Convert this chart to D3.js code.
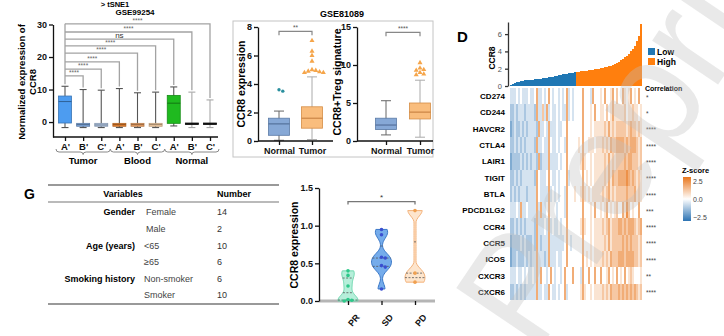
<!DOCTYPE html>
<html>
<head>
<meta charset="utf-8">
<script src="https://cdn.jsdelivr.net/npm/d3@7"></script>
<style>
  body { margin: 0; background: #fff; }
  svg { display: block; }
</style>
</head>
<body>
<div class="canvas"></div>
<script>
// ---------- data ----------
// panel A (GSE99254) : [min, q1, median, q3, max]
const groupsA = ["Tumor", "Blood", "Normal"];
const subsetsA = ["A'", "B'", "C'"];
const boxA = [
  [-1.7, -0.3, 6.3, 8.0, 11.0],
  [-1.7, -1.3, -0.8, -0.4, 10.0],
  [-1.7, -1.3, -0.9, -0.4, 9.8],
  [-1.7, -1.3, -0.8, -0.4, 10.3],
  [-1.7, -1.3, -0.8, -0.4, 9.0],
  [-1.7, -1.3, -0.8, -0.4, 9.2],
  [-1.2, -0.4, 5.8, 8.2, 10.8],
  [-1.7, -0.7, -0.5, -0.3, 9.2],
  [-1.7, -0.7, -0.5, -0.3, 6.8]
];
const colorsA = ["#4d9cf0", "#7fa8de", "#b5cbea", "#e9822f", "#f0a465", "#f7cfa4", "#1fba1f", "#1a1a1a", "#1a1a1a"];
const yTicksA = [0, 10, 20, 30];
const sigA = ["****", "****", "****", "****", "****", "ns", "****", "****"];
const sigHeightA = [14.2, 16.3, 18.5, 21.2, 23.4, 25.5, 27.7, 30.2];

// panel B (GSE81089)
const catsB = ["Normal", "Tumor"];
const boxB1 = [[0.05, 0.4, 1.2, 1.6, 2.1], [0.1, 0.9, 1.6, 2.4, 4.5]];
const outB1 = [[3.6, 3.5], [7.05, 6.3, 6.0, 5.6, 5.0, 4.95, 4.9, 4.85, 4.8, 4.8]];
const boxB2 = [[0.8, 1.5, 2.1, 3.0, 5.3], [0.5, 2.9, 3.8, 5.0, 8.0]];
const outB2 = [[], [10.3, 9.6, 9.4, 9.3, 9.0, 8.8, 8.7]];

// panel D
const ccr8Low = [0.10, 0.25, 0.35, 0.45, 0.52, 0.58, 0.63, 0.66, 0.69, 0.71, 0.73, 0.75, 0.77, 0.80, 0.83, 0.86, 0.89,
  0.92, 0.95, 0.99, 1.03, 1.08, 1.13, 1.18, 1.23, 1.28, 1.33, 1.37, 1.41, 1.45, 1.49, 1.53, 1.57];
const ccr8High = [1.62, 1.65, 1.68, 1.71, 1.74, 1.77, 1.80, 1.84, 1.88, 1.92, 1.96, 2.00, 2.05, 2.10, 2.16, 2.22, 2.29,
  2.36, 2.44, 2.53, 2.63, 2.78, 2.95, 3.12, 3.30, 3.50, 3.75, 4.00, 4.30, 4.65, 5.20, 5.80, 7.20];
const genes = ["CD274", "CD244", "HAVCR2", "CTLA4", "LAIR1", "TIGIT", "BTLA", "PDCD1LG2", "CCR4", "CCR5", "ICOS", "CXCR3", "CXCR6"];
const geneStars = ["*", "*", "****", "****", "****", "****", "****", "***", "****", "****", "****", "**", "****"];
// z-score levels per sample, 0 = low ... 4 = 0 ... 8 = high
const zLevels = [
  "33343433343 34733434743 44343473434 44474443744 45474457464 47545745474",
  "22323332333 32733637343 34343373434 44474445474 45546457555 55645565545",
  "12322323233 33273343733 34334474444 44474445455 55565756566 66656766565",
  "22323232333 32733433743 34344374444 45474455545 55656576677 77676777656",
  "12222323232 33272333733 33434474444 44575445455 55565756566 66767766656",
  "22323233333 32743334743 34344473444 44474545455 55565757667 77787676565",
  "23232333233 33743333734 34344374445 44575454555 55656756566 66676667565",
  "33343733433 33737334744 43444374444 44474445474 45457454564 47586454474",
  "22323232333 32733343734 33434474444 44575445455 55656756667 76767776567",
  "12222323222 32732333733 33333474344 44474445455 55565756666 67676766656",
  "12232223232 33733323733 34334474444 44474545455 55656576667 77677776656",
  "33343343433 43737443474 34434744474 44374474474 47445745474 54745654445",
  "22323232333 33733433743 34344734444 44575445455 55656576667 67676767656"
];

// panel G table
const tableVars = ["Gender", "", "Age (years)", "", "Smoking history", ""];
const tableLevels = ["Female", "Male", "<65", "\u226565", "Non-smoker", "Smoker"];
const tableNumbers = [14, 2, 10, 6, 6, 10];

// violin
const catsV = ["PR", "SD", "PD"];
const valuesV = [
  [0.40, 0.34, 0.20, 0.02, 0.01, 0.0],
  [0.95, 0.88, 0.58, 0.57, 0.47, 0.45, 0.16],
  [1.20, 0.37, 0.25]
];

// ---------- setup ----------
const FONT = '"Liberation Sans", Arial, sans-serif';
const svg = d3.select('.canvas').append('svg')
  .attr('width', 724).attr('height', 336)
  .attr('font-family', FONT);
svg.append('rect').attr('width', 724).attr('height', 336).attr('fill', '#fff');

function styleAxis(g, size, weight, color, stroke) {
  g.attr('font-family', FONT);
  g.selectAll('text').attr('font-size', size).attr('font-weight', weight).attr('fill', color || '#111');
  g.selectAll('path,line').attr('stroke', stroke || '#111').attr('stroke-width', 1.3);
}

// place points so they do not overlap
function swarm(ys, r) {
  const placed = [];
  return ys.map(y => {
    let off = 0;
    for (let k = 0; k < 30; k++) {
      off = k === 0 ? 0 : (k % 2 ? 1 : -1) * Math.ceil(k / 2) * r * 2.1;
      const hit = placed.some(p => (p[0] - off) ** 2 + (p[1] - y) ** 2 < (2 * r) ** 2);
      if (!hit) break;
    }
    placed.push([off, y]);
    return off;
  });
}

// ---------- panel A ----------
const xA = d3.scalePoint().domain(d3.range(9)).range([65, 210]);
const yA = d3.scaleLinear().domain([-4.6, 30]).range([137, 24.5]);
const gA = svg.append('g');

gA.append('text').attr('x', 115).attr('y', 7).attr('text-anchor', 'middle')
  .attr('font-size', 7.5).attr('font-weight', 'bold').text('> tSNE1');
gA.append('text').attr('x', 135).attr('y', 15).attr('text-anchor', 'middle')
  .attr('font-size', 8).attr('font-weight', 'bold').text('GSE99254');

// comparison brackets
gA.append('line')
  .attr('x1', xA(0)).attr('x2', xA(0))
  .attr('y1', yA(d3.max(sigHeightA))).attr('y2', yA(boxA[0][4] + 0.6))
  .attr('stroke', '#a3a3a3').attr('stroke-width', 1.3);
sigA.forEach((lab, j) => {
  const t = j + 1;
  gA.append('path')
    .attr('d', `M${xA(0)},${yA(sigHeightA[j])}H${xA(t)}V${yA(boxA[t][4] + 0.6)}`)
    .attr('fill', 'none').attr('stroke', '#a3a3a3').attr('stroke-width', 1.3);
  gA.append('text')
    .attr('x', (xA(0) + xA(t)) / 2).attr('y', yA(sigHeightA[j]) - 1.2)
    .attr('text-anchor', 'middle')
    .attr('font-size', lab === 'ns' ? 8 : 6.5).attr('fill', lab === 'ns' ? '#333' : '#666')
    .text(lab);
});

// boxes
boxA.forEach((b, i) => {
  const cx = xA(i), w = 13;
  const wc = i >= 7 ? '#a8a8a8' : '#555';
  gA.append('line').attr('x1', cx).attr('x2', cx).attr('y1', yA(b[0])).attr('y2', yA(b[4]))
    .attr('stroke', wc).attr('stroke-width', 1.1);
  [b[0], b[4]].forEach(v => {
    gA.append('line').attr('x1', cx - 3.5).attr('x2', cx + 3.5).attr('y1', yA(v)).attr('y2', yA(v))
      .attr('stroke', wc).attr('stroke-width', 1.1);
  });
  gA.append('rect')
    .attr('x', cx - w / 2).attr('y', yA(b[3]))
    .attr('width', w).attr('height', Math.max(yA(b[1]) - yA(b[3]), 1.5))
    .attr('fill', colorsA[i]).attr('stroke', i >= 7 ? '#111' : d3.color(colorsA[i]).darker(0.8))
    .attr('stroke-width', 0.8);
  gA.append('line').attr('x1', cx - w / 2).attr('x2', cx + w / 2).attr('y1', yA(b[2])).attr('y2', yA(b[2]))
    .attr('stroke', d3.color(colorsA[i]).darker(1.3)).attr('stroke-width', 1);
});

const yAxisA = gA.append('g').attr('transform', 'translate(53,0)')
  .call(d3.axisLeft(yA).tickValues(yTicksA).tickSize(4).tickSizeOuter(0).tickPadding(2));
styleAxis(yAxisA, 9, 'bold');

const xAxisA = gA.append('g').attr('transform', 'translate(0,137)')
  .call(d3.axisBottom(xA).tickFormat(i => subsetsA[i % 3]).tickSize(4).tickPadding(2));
xAxisA.select('.domain').attr('d', 'M53,0H218');
styleAxis(xAxisA, 9.5, 'bold');

groupsA.forEach((g, k) => {
  const x0 = xA(3 * k) - 9, x1 = xA(3 * k + 2) + 9, m = (x0 + x1) / 2, y = 152;
  gA.append('path')
    .attr('d', `M${x0},${y - 3}Q${x0},${y} ${x0 + 3},${y}H${m - 3}Q${m},${y} ${m},${y + 2.5}Q${m},${y} ${m + 3},${y}H${x1 - 3}Q${x1},${y} ${x1},${y - 3}`)
    .attr('fill', 'none').attr('stroke', '#888').attr('stroke-width', 1);
  gA.append('text').attr('x', m).attr('y', 164).attr('text-anchor', 'middle')
    .attr('font-size', 9.5).attr('font-weight', 'bold').text(g);
});

const labA = gA.append('text').attr('transform', 'translate(25,82) rotate(-90)')
  .attr('text-anchor', 'middle').attr('font-size', 9.5).attr('font-weight', 'bold');
labA.append('tspan').attr('x', 0).attr('dy', 0).text('Normalized expression of');
labA.append('tspan').attr('x', 0).attr('dy', 11).text('CCR8');

// ---------- panel B ----------
const gB = svg.append('g');
gB.append('rect').attr('x', 233).attr('y', 21).attr('width', 200).attr('height', 136)
  .attr('fill', 'none').attr('stroke', '#c4c4c4').attr('stroke-width', 1);
gB.append('text').attr('x', 342).attr('y', 17).attr('text-anchor', 'middle')
  .attr('font-size', 9).attr('font-weight', 'bold').text('GSE81089');

function boxPanel(opt) {
  const x = d3.scalePoint().domain(catsB).range(opt.xr);
  const y = d3.scaleLinear().domain(opt.dom).range(opt.yr);
  const g = gB.append('g');
  const fills = ['#86a8d6', '#f9bd7d'], strokes = ['#5b7aa6', '#d58d45'];
  opt.box.forEach((b, i) => {
    const cx = x(catsB[i]), w = 21;
    g.append('line').attr('x1', cx).attr('x2', cx).attr('y1', y(b[0])).attr('y2', y(b[4]))
      .attr('stroke', i ? '#aaa' : '#666').attr('stroke-width', 1);
    [b[0], b[4]].forEach(v => g.append('line').attr('x1', cx - 5).attr('x2', cx + 5)
      .attr('y1', y(v)).attr('y2', y(v)).attr('stroke', i ? '#aaa' : '#666').attr('stroke-width', 1));
    g.append('rect').attr('x', cx - w / 2).attr('y', y(b[3])).attr('width', w).attr('height', y(b[1]) - y(b[3]))
      .attr('fill', fills[i]).attr('stroke', strokes[i]).attr('stroke-width', 0.8);
    g.append('line').attr('x1', cx - w / 2).attr('x2', cx + w / 2).attr('y1', y(b[2])).attr('y2', y(b[2]))
      .attr('stroke', i ? '#c27a3a' : '#4b6690').attr('stroke-width', 1);
    const ys = opt.out[i].map(v => y(v));
    const offs = swarm(ys, 1.8);
    ys.forEach((py, k) => {
      g.append('path')
        .attr('transform', `translate(${cx + offs[k]},${py})`)
        .attr('d', d3.symbol().type(i ? d3.symbolTriangle : d3.symbolCircle).size(i ? 11 : 9)())
        .attr('fill', i ? '#f5a54a' : '#2a8f9e');
    });
  });
  // significance
  const hy = y(opt.sig[0]);
  g.append('path').attr('d', `M${x(catsB[0])},${hy + 4}V${hy}H${x(catsB[1])}V${hy + 4}`)
    .attr('fill', 'none').attr('stroke', '#888').attr('stroke-width', 1.2);
  g.append('text').attr('x', (x(catsB[0]) + x(catsB[1])) / 2).attr('y', hy - 1.5).attr('text-anchor', 'middle')
    .attr('font-size', 6.5).attr('fill', '#555').text(opt.sig[1]);
  const ya = g.append('g').attr('transform', `translate(${opt.ax},0)`)
    .call(d3.axisLeft(y).tickValues(opt.ticks).tickSize(4).tickSizeOuter(0).tickPadding(2));
  styleAxis(ya, 9, 'bold');
  const xa = g.append('g').attr('transform', `translate(0,${opt.yr[0]})`)
    .call(d3.axisBottom(x).tickSize(4).tickPadding(3));
  xa.select('.domain').attr('d', `M${opt.ax},0H${opt.xend}`);
  styleAxis(xa, 9, 'bold');
  g.append('text').attr('transform', `translate(${opt.lx},${opt.ly}) rotate(-90)`)
    .attr('text-anchor', 'middle').attr('font-size', 10.5).attr('font-weight', 'bold').text(opt.label);
}

boxPanel({ xr: [279, 312], dom: [0, 8], yr: [141, 27], ax: 258, xend: 333, box: boxB1, out: outB1,
  sig: [7.7, '**'], ticks: [0, 2, 4, 6, 8], label: 'CCR8 expression', lx: 245, ly: 84 });
boxPanel({ xr: [386, 420], dom: [0, 15], yr: [141, 27], ax: 357, xend: 433, box: boxB2, out: outB2,
  sig: [14.3, '****'], ticks: [0, 5, 10, 15], label: 'CCR8+Treg signature', lx: 341, ly: 82 });

// ---------- panel D ----------
const gD = svg.append('g');
gD.append('text').attr('x', 457).attr('y', 42).attr('font-size', 15).attr('font-weight', 'bold').text('D');

const ccr8 = ccr8Low.concat(ccr8High);
const xD = d3.scaleBand().domain(d3.range(ccr8.length)).range([510, 642]);
const yD = d3.scaleLinear().domain([0, 7.4]).range([86, 22]);
gD.selectAll('rect.bar').data(ccr8).join('rect')
  .attr('x', (d, i) => xD(i)).attr('width', xD.bandwidth() + 0.3)
  .attr('y', d => yD(d)).attr('height', d => yD(0) - yD(d))
  .attr('fill', (d, i) => i < ccr8Low.length ? '#1f77b4' : '#ff7f0e')
  .attr('shape-rendering', 'crispEdges');
const yAxisD = gD.append('g').attr('transform', 'translate(508,0)')
  .call(d3.axisLeft(yD).tickValues([0, 2, 4, 6]).tickSize(3).tickSizeOuter(0).tickPadding(3));
styleAxis(yAxisD, 7.5, 'normal', '#555', '#333');
gD.append('text').attr('transform', 'translate(495,58) rotate(-90)').attr('text-anchor', 'middle')
  .attr('font-size', 8.5).attr('font-weight', 'bold').text('CCR8');

[['Low', '#1f77b4'], ['High', '#ff7f0e']].forEach((d, i) => {
  gD.append('rect').attr('x', 648).attr('y', 48 + i * 10).attr('width', 7).attr('height', 7).attr('fill', d[1]);
  gD.append('text').attr('x', 657).attr('y', 54.5 + i * 10).attr('font-size', 8.5).attr('font-weight', 'bold').text(d[0]);
});

const rowD = d3.scaleBand().domain(genes).range([88, 300]);
const zColor = d3.scaleLinear().domain([-2.5, 0, 2.5]).range(['#2c73b3', '#ffffff', '#e8761c']);
genes.forEach((gname, r) => {
  const lv = zLevels[r].replace(/ /g, '').split('').map(Number);
  gD.selectAll(null).data(lv).join('rect')
    .attr('x', (d, i) => xD(i)).attr('width', xD.bandwidth() + 0.3)
    .attr('y', rowD(gname)).attr('height', rowD.bandwidth() + 0.3)
    .attr('fill', d => zColor((d - 4) * 0.5))
    .attr('shape-rendering', 'crispEdges');
  gD.append('text').attr('x', 505).attr('y', rowD(gname) + rowD.bandwidth() / 2 + 3)
    .attr('text-anchor', 'end').attr('font-size', 8).attr('font-weight', 'bold').text(gname);
  gD.append('text').attr('x', 646).attr('y', rowD(gname) + rowD.bandwidth() / 2 + 3.5)
    .attr('font-size', 6.5).attr('fill', '#444').text(geneStars[r]);
});
gD.append('text').attr('x', 645).attr('y', 91).attr('font-size', 7).attr('font-weight', 'bold').text('Correlation');

const grad = svg.append('defs').append('linearGradient').attr('id', 'zgrad')
  .attr('x1', 0).attr('y1', 0).attr('x2', 0).attr('y2', 1);
[[0, 2.5], [0.5, 0], [1, -2.5]].forEach(s => grad.append('stop').attr('offset', s[0]).attr('stop-color', zColor(s[1])));
gD.append('text').attr('x', 682).attr('y', 173).attr('font-size', 7.5).attr('font-weight', 'bold').text('Z-score');
gD.append('rect').attr('x', 683).attr('y', 177).attr('width', 8).attr('height', 44).attr('fill', 'url(#zgrad)');
const zScale = d3.scaleLinear().domain([2.5, -2.5]).range([181, 217]);
[2.5, 0, -2.5].forEach(v => gD.append('text').attr('x', 693).attr('y', zScale(v) + 2.5)
  .attr('font-size', 7).attr('fill', '#444').text(d3.format('.1f')(v)));

// ---------- panel G (table) ----------
const gG = svg.append('g');
gG.append('text').attr('x', 24).attr('y', 199).attr('font-size', 14).attr('font-weight', 'bold').text('G');
const rowG = d3.scaleBand().domain(d3.range(tableLevels.length)).range([204, 303.6]);
[185, 202, 304].forEach(y => gG.append('line').attr('x1', 48).attr('x2', 279).attr('y1', y).attr('y2', y)
  .attr('stroke', '#777').attr('stroke-width', y === 202 ? 1.2 : 1.5));
gG.append('text').attr('x', 123).attr('y', 197).attr('text-anchor', 'middle').attr('font-size', 9)
  .attr('font-weight', 'bold').text('Variables');
gG.append('text').attr('x', 217).attr('y', 197).attr('font-size', 9).attr('font-weight', 'bold').text('Number');
tableLevels.forEach((lv, i) => {
  const y = rowG(i) + rowG.bandwidth() / 2 + 3;
  if (tableVars[i]) gG.append('text').attr('x', 135).attr('y', y).attr('text-anchor', 'end')
    .attr('font-size', 9).attr('font-weight', 'bold').text(tableVars[i]);
  gG.append('text').attr('x', i < 2 ? 146 : 144).attr('y', y).attr('font-size', 9).attr('fill', '#444').text(lv);
  gG.append('text').attr('x', 217).attr('y', y).attr('font-size', 9).attr('fill', '#333').text(tableNumbers[i]);
});

// ---------- violin ----------
const gV = svg.append('g');
const xV = d3.scalePoint().domain(catsV).range([348, 415]);
const yV = d3.scaleLinear().domain([0, 1.5]).range([301, 188]);
const vFill = ['#a9ecd4', '#5d9de8', '#fde0c4'];
const vStroke = ['#6fd9b0', '#3a78c8', '#f4b27a'];
const vPoint = ['#2dc98a', '#3a4fd0', '#f0a050'];
const bw = 0.07, maxHalf = 10;
gV.append('line').attr('x1', 319).attr('x2', 435).attr('y1', 301).attr('y2', 301)
  .attr('stroke', '#b5b5b5').attr('stroke-width', 3);
valuesV.forEach((vals, i) => {
  const cx = xV(catsV[i]);
  const lo = d3.min(vals), hi = d3.max(vals);
  const dens = v => d3.mean(vals, u => Math.exp(-0.5 * ((v - u) / bw) ** 2));
  const grid = d3.range(41).map(k => lo + (hi - lo) * k / 40);
  const dmax = d3.max(grid, dens);
  const half = v => Math.max(1, dens(v) / dmax * maxHalf);
  const area = d3.area().curve(d3.curveBasis)
    .x0(v => cx - half(v)).x1(v => cx + half(v)).y(v => yV(v));
  gV.append('path').attr('d', area(grid)).attr('fill', vFill[i]).attr('fill-opacity', 0.85)
    .attr('stroke', vStroke[i]).attr('stroke-width', 1);
  const sorted = vals.slice().sort(d3.ascending);
  [0.25, 0.5, 0.75].forEach(p => {
    const q = d3.quantile(sorted, p);
    gV.append('line').attr('x1', cx - half(q)).attr('x2', cx + half(q)).attr('y1', yV(q)).attr('y2', yV(q))
      .attr('stroke', '#555').attr('stroke-width', 0.8).attr('stroke-dasharray', '2,1.5');
  });
  const ys = vals.map(v => yV(v));
  const offs = swarm(ys, 1.8);
  ys.forEach((py, k) => gV.append('circle').attr('cx', cx + offs[k]).attr('cy', py).attr('r', 1.8).attr('fill', vPoint[i]));
});
const hV = yV(1.32);
gV.append('path').attr('d', `M${xV('PR')},${hV + 3}V${hV}H${xV('PD')}V${hV + 3}`)
  .attr('fill', 'none').attr('stroke', '#777').attr('stroke-width', 1.3);
gV.append('text').attr('x', (xV('PR') + xV('PD')) / 2).attr('y', hV - 2).attr('text-anchor', 'middle')
  .attr('font-size', 8).attr('fill', '#333').text('*');
const yAxisV = gV.append('g').attr('transform', 'translate(319,0)')
  .call(d3.axisLeft(yV).tickValues([0, 0.5, 1, 1.5]).tickFormat(d3.format('.1f')).tickSize(4).tickSizeOuter(0).tickPadding(2));
styleAxis(yAxisV, 9, 'bold');
const xAxisV = gV.append('g').attr('transform', 'translate(0,301)')
  .call(d3.axisBottom(xV).tickSize(4).tickPadding(3));
xAxisV.select('.domain').remove();
styleAxis(xAxisV, 9, 'bold');
xAxisV.selectAll('text').attr('text-anchor', 'end').attr('dy', '0.35em')
  .attr('transform', 'translate(4,10) rotate(-50)');
gV.append('text').attr('transform', 'translate(298,245) rotate(-90)').attr('text-anchor', 'middle')
  .attr('font-size', 10.5).attr('font-weight', 'bold').text('CCR8 expression');

// ---------- watermark ----------
svg.append('text').attr('transform', 'translate(535,356) rotate(-56)')
  .attr('font-size', 150).attr('fill', '#c0c0c0').attr('fill-opacity', 0.35)
  .attr('font-family', FONT).text('Preprint');
</script>
</body>
</html>
